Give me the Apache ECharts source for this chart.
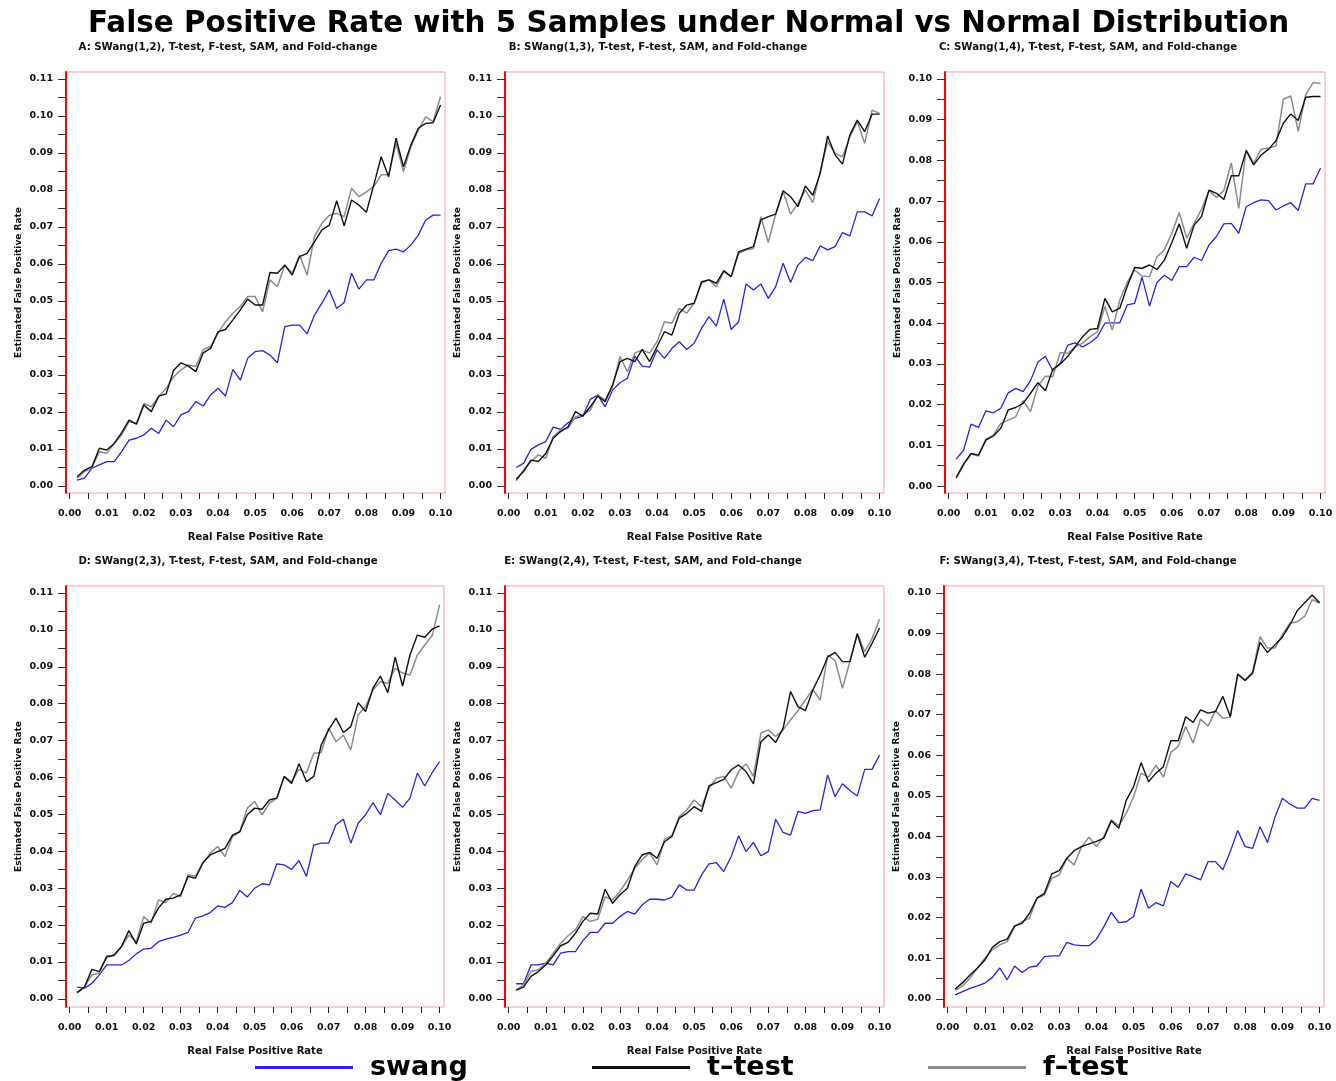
<!DOCTYPE html>
<html>
<head>
<meta charset="utf-8">
<script src="https://cdn.jsdelivr.net/npm/echarts@6/dist/echarts.min.js"></script>
<style>
html,body{margin:0;padding:0;background:#ffffff;}
#chart{width:1336px;height:1081px;}
</style>
</head>
<body>
<div id="chart"></div>
<script>
// ---------------- data ----------------
const xValues = [0.002,0.004,0.006,0.008,0.010,0.012,0.014,0.016,0.018,0.020,0.022,0.024,0.026,0.028,0.030,0.032,0.034,0.036,0.038,0.040,0.042,0.044,0.046,0.048,0.050,0.052,0.054,0.056,0.058,0.060,0.062,0.064,0.066,0.068,0.070,0.072,0.074,0.076,0.078,0.080,0.082,0.084,0.086,0.088,0.090,0.092,0.094,0.096,0.098,0.100];

const xTickLabels = [0.00,0.01,0.02,0.03,0.04,0.05,0.06,0.07,0.08,0.09,0.10];
const xTickMarks = [0.000,0.005,0.010,0.015,0.020,0.025,0.030,0.035,0.040,0.045,0.050,0.055,0.060,0.065,0.070,0.075,0.080,0.085,0.090,0.095,0.100];
const yTickLabels11 = [0.00,0.01,0.02,0.03,0.04,0.05,0.06,0.07,0.08,0.09,0.10,0.11];
const yTickMarks11 = [0.000,0.005,0.010,0.015,0.020,0.025,0.030,0.035,0.040,0.045,0.050,0.055,0.060,0.065,0.070,0.075,0.080,0.085,0.090,0.095,0.100,0.105,0.110];
const yTickLabels10 = [0.00,0.01,0.02,0.03,0.04,0.05,0.06,0.07,0.08,0.09,0.10];
const yTickMarks10 = [0.000,0.005,0.010,0.015,0.020,0.025,0.030,0.035,0.040,0.045,0.050,0.055,0.060,0.065,0.070,0.075,0.080,0.085,0.090,0.095,0.100];

const seriesNames = ['swang', 't\u2013test', 'f\u2013test'];

const panelTitles = [
  'A: SWang(1,2), T-test, F-test, SAM, and Fold-change',
  'B: SWang(1,3), T-test, F-test, SAM, and Fold-change',
  'C: SWang(1,4), T-test, F-test, SAM, and Fold-change',
  'D: SWang(2,3), T-test, F-test, SAM, and Fold-change',
  'E: SWang(2,4), T-test, F-test, SAM, and Fold-change',
  'F: SWang(3,4), T-test, F-test, SAM, and Fold-change'
];

// Panel A
const swangA = [0.0016,0.0021,0.0048,0.0057,0.0066,0.0066,0.0093,0.0124,0.0129,0.0138,0.0156,0.0142,0.0178,0.0160,0.0192,0.0201,0.0228,0.0216,0.0246,0.0264,0.0243,0.0315,0.0286,0.0345,0.0363,0.0366,0.0354,0.0333,0.0431,0.0435,0.0435,0.0411,0.0462,0.0494,0.0530,0.0480,0.0496,0.0575,0.0532,0.0557,0.0557,0.0602,0.0636,0.0640,0.0633,0.0651,0.0678,0.0719,0.0732,0.0732];
const ttestA = [0.0025,0.0043,0.0052,0.0102,0.0097,0.0115,0.0144,0.0178,0.0167,0.0219,0.0201,0.0243,0.0249,0.0312,0.0333,0.0324,0.0309,0.0360,0.0372,0.0417,0.0423,0.0449,0.0476,0.0505,0.0489,0.0489,0.0577,0.0575,0.0597,0.0570,0.0620,0.0629,0.0660,0.0692,0.0705,0.0771,0.0703,0.0773,0.0759,0.0740,0.0814,0.0890,0.0836,0.0940,0.0863,0.0922,0.0967,0.0980,0.0982,0.1030];
const ftestA = [0.0021,0.0039,0.0050,0.0093,0.0088,0.0115,0.0138,0.0174,0.0169,0.0223,0.0214,0.0241,0.0264,0.0295,0.0314,0.0327,0.0323,0.0369,0.0377,0.0413,0.0444,0.0467,0.0485,0.0512,0.0512,0.0471,0.0557,0.0539,0.0597,0.0575,0.0624,0.0570,0.0674,0.0710,0.0732,0.0737,0.0728,0.0805,0.0782,0.0795,0.0809,0.0841,0.0841,0.0926,0.0850,0.0917,0.0962,0.0998,0.0985,0.1052];

// Panel B
const swangB = [0.0050,0.0061,0.0099,0.0111,0.0120,0.0159,0.0153,0.0171,0.0183,0.0189,0.0234,0.0246,0.0214,0.0259,0.0279,0.0291,0.0351,0.0324,0.0321,0.0368,0.0345,0.0372,0.0390,0.0369,0.0386,0.0426,0.0458,0.0432,0.0505,0.0423,0.0444,0.0546,0.0530,0.0546,0.0507,0.0539,0.0602,0.0550,0.0597,0.0618,0.0609,0.0649,0.0638,0.0647,0.0685,0.0676,0.0741,0.0741,0.0730,0.0777];
const ttestB = [0.0018,0.0039,0.0070,0.0066,0.0088,0.0129,0.0147,0.0160,0.0201,0.0189,0.0214,0.0243,0.0228,0.0273,0.0336,0.0345,0.0336,0.0369,0.0336,0.0377,0.0417,0.0408,0.0467,0.0489,0.0494,0.0552,0.0557,0.0548,0.0582,0.0566,0.0633,0.0640,0.0647,0.0719,0.0728,0.0735,0.0798,0.0782,0.0755,0.0811,0.0786,0.0845,0.0946,0.0895,0.0870,0.0949,0.0989,0.0958,0.1005,0.1005];
const ftestB = [0.0014,0.0043,0.0066,0.0084,0.0075,0.0133,0.0151,0.0156,0.0187,0.0192,0.0205,0.0246,0.0232,0.0268,0.0350,0.0309,0.0359,0.0368,0.0359,0.0390,0.0444,0.0440,0.0480,0.0467,0.0494,0.0548,0.0557,0.0539,0.0579,0.0566,0.0629,0.0638,0.0642,0.0728,0.0658,0.0735,0.0795,0.0735,0.0764,0.0800,0.0766,0.0850,0.0931,0.0899,0.0890,0.0944,0.0985,0.0926,0.1016,0.1007];

// Panel C
const swangC = [0.0066,0.0088,0.0152,0.0144,0.0185,0.0180,0.0191,0.0229,0.0240,0.0232,0.0259,0.0305,0.0319,0.0283,0.0301,0.0346,0.0352,0.0342,0.0352,0.0367,0.0400,0.0401,0.0401,0.0445,0.0449,0.0513,0.0442,0.0500,0.0518,0.0505,0.0539,0.0539,0.0562,0.0554,0.0592,0.0613,0.0644,0.0645,0.0621,0.0686,0.0696,0.0703,0.0701,0.0678,0.0688,0.0696,0.0677,0.0742,0.0742,0.0781];
const ttestC = [0.0021,0.0054,0.0080,0.0076,0.0113,0.0123,0.0142,0.0187,0.0193,0.0203,0.0228,0.0254,0.0234,0.0287,0.0300,0.0318,0.0342,0.0367,0.0385,0.0387,0.0461,0.0428,0.0437,0.0490,0.0537,0.0535,0.0543,0.0532,0.0555,0.0598,0.0644,0.0584,0.0641,0.0662,0.0727,0.0719,0.0704,0.0762,0.0762,0.0824,0.0789,0.0813,0.0827,0.0848,0.0891,0.0914,0.0898,0.0955,0.0957,0.0957];
const ftestC = [0.0019,0.0052,0.0079,0.0074,0.0115,0.0125,0.0154,0.0162,0.0170,0.0210,0.0183,0.0246,0.0270,0.0269,0.0328,0.0326,0.0342,0.0351,0.0367,0.0379,0.0441,0.0383,0.0457,0.0500,0.0531,0.0516,0.0514,0.0563,0.0580,0.0621,0.0672,0.0609,0.0645,0.0680,0.0726,0.0709,0.0726,0.0794,0.0682,0.0826,0.0793,0.0827,0.0830,0.0835,0.0950,0.0958,0.0871,0.0961,0.0991,0.0989];

// Panel D
const swangD = [0.0032,0.0029,0.0042,0.0065,0.0092,0.0092,0.0092,0.0104,0.0122,0.0135,0.0137,0.0155,0.0162,0.0167,0.0173,0.0180,0.0219,0.0225,0.0234,0.0252,0.0248,0.0261,0.0294,0.0276,0.0300,0.0312,0.0309,0.0366,0.0363,0.0351,0.0375,0.0332,0.0417,0.0422,0.0422,0.0472,0.0487,0.0422,0.0476,0.0499,0.0532,0.0499,0.0557,0.0539,0.0519,0.0544,0.0612,0.0577,0.0613,0.0643];
const ttestD = [0.0017,0.0032,0.0080,0.0074,0.0113,0.0119,0.0142,0.0185,0.0149,0.0205,0.0210,0.0246,0.0270,0.0273,0.0282,0.0332,0.0327,0.0369,0.0390,0.0399,0.0408,0.0444,0.0453,0.0499,0.0517,0.0514,0.0539,0.0544,0.0603,0.0584,0.0637,0.0589,0.0603,0.0688,0.0729,0.0761,0.0722,0.0738,0.0803,0.0779,0.0842,0.0875,0.0830,0.0926,0.0848,0.0932,0.0986,0.0980,0.1002,0.1011];
const ftestD = [0.0017,0.0032,0.0065,0.0070,0.0117,0.0117,0.0142,0.0173,0.0155,0.0223,0.0205,0.0268,0.0261,0.0286,0.0277,0.0336,0.0333,0.0368,0.0395,0.0413,0.0386,0.0440,0.0453,0.0517,0.0535,0.0499,0.0530,0.0544,0.0603,0.0589,0.0622,0.0612,0.0666,0.0668,0.0734,0.0697,0.0715,0.0675,0.0770,0.0792,0.0837,0.0860,0.0855,0.0896,0.0883,0.0878,0.0932,0.0959,0.0984,0.1068];

// Panel E
const swangE = [0.0041,0.0041,0.0092,0.0092,0.0097,0.0092,0.0124,0.0128,0.0128,0.0158,0.0180,0.0180,0.0205,0.0205,0.0223,0.0237,0.0230,0.0255,0.0270,0.0270,0.0268,0.0276,0.0309,0.0295,0.0295,0.0336,0.0366,0.0369,0.0345,0.0386,0.0442,0.0399,0.0424,0.0388,0.0399,0.0487,0.0451,0.0444,0.0508,0.0503,0.0510,0.0512,0.0607,0.0548,0.0583,0.0565,0.0550,0.0622,0.0622,0.0661];
const ttestE = [0.0024,0.0032,0.0061,0.0074,0.0092,0.0117,0.0144,0.0153,0.0178,0.0210,0.0232,0.0230,0.0297,0.0259,0.0282,0.0300,0.0359,0.0390,0.0397,0.0381,0.0426,0.0440,0.0490,0.0503,0.0521,0.0508,0.0577,0.0586,0.0595,0.0621,0.0634,0.0616,0.0583,0.0697,0.0715,0.0695,0.0734,0.0833,0.0792,0.0781,0.0837,0.0878,0.0926,0.0939,0.0914,0.0914,0.0989,0.0926,0.0964,0.1005];
const ftestE = [0.0024,0.0038,0.0074,0.0079,0.0097,0.0124,0.0151,0.0171,0.0187,0.0223,0.0210,0.0216,0.0277,0.0268,0.0291,0.0322,0.0354,0.0378,0.0395,0.0363,0.0433,0.0442,0.0494,0.0512,0.0539,0.0521,0.0571,0.0598,0.0603,0.0571,0.0616,0.0637,0.0603,0.0720,0.0729,0.0711,0.0729,0.0756,0.0781,0.0810,0.0839,0.0810,0.0932,0.0917,0.0842,0.0914,0.0991,0.0941,0.0977,0.1029];

// Panel F
const swangF = [0.0010,0.0018,0.0026,0.0032,0.0039,0.0053,0.0076,0.0047,0.0081,0.0065,0.0078,0.0081,0.0104,0.0106,0.0106,0.0139,0.0133,0.0131,0.0131,0.0147,0.0178,0.0213,0.0188,0.0190,0.0203,0.0270,0.0223,0.0237,0.0229,0.0289,0.0275,0.0308,0.0301,0.0293,0.0338,0.0338,0.0318,0.0363,0.0415,0.0375,0.0371,0.0424,0.0385,0.0447,0.0494,0.0480,0.0470,0.0470,0.0494,0.0489];
const ttestF = [0.0024,0.0040,0.0059,0.0076,0.0096,0.0127,0.0141,0.0147,0.0180,0.0186,0.0211,0.0248,0.0260,0.0308,0.0316,0.0346,0.0365,0.0375,0.0382,0.0388,0.0396,0.0439,0.0420,0.0489,0.0523,0.0582,0.0535,0.0556,0.0572,0.0636,0.0636,0.0695,0.0681,0.0712,0.0704,0.0708,0.0745,0.0695,0.0800,0.0784,0.0802,0.0878,0.0853,0.0872,0.0891,0.0921,0.0956,0.0976,0.0995,0.0976];
const ftestF = [0.0021,0.0032,0.0051,0.0076,0.0100,0.0121,0.0133,0.0141,0.0178,0.0190,0.0199,0.0248,0.0256,0.0297,0.0305,0.0346,0.0330,0.0375,0.0398,0.0375,0.0400,0.0441,0.0426,0.0457,0.0498,0.0556,0.0546,0.0576,0.0546,0.0607,0.0622,0.0671,0.0630,0.0689,0.0672,0.0710,0.0691,0.0694,0.0798,0.0786,0.0806,0.0892,0.0864,0.0864,0.0897,0.0925,0.0929,0.0942,0.0983,0.0975];

// ---------------- layout / style ----------------
const FONT = 'DejaVu Sans';
const COLORS = { swang: '#2626d6', t: '#111111', f: '#8c8c8c' };

const panels = [
  { left: 66,  top: 72,  width: 379, height: 421, ymin: -0.0019, ymax: 0.1119, yLab: yTickLabels11, yTk: yTickMarks11, subX: 228,  subY: 47,  s: swangA, t: ttestA, f: ftestA },
  { left: 505, top: 72,  width: 379, height: 421, ymin: -0.0019, ymax: 0.1119, yLab: yTickLabels11, yTk: yTickMarks11, subX: 658,  subY: 47,  s: swangB, t: ttestB, f: ftestB },
  { left: 945, top: 72,  width: 380, height: 421, ymin: -0.0017, ymax: 0.1017, yLab: yTickLabels10, yTk: yTickMarks10, subX: 1088, subY: 47,  s: swangC, t: ttestC, f: ftestC },
  { left: 66,  top: 586, width: 378, height: 421, ymin: -0.0022, ymax: 0.1119, yLab: yTickLabels11, yTk: yTickMarks11, subX: 228,  subY: 561, s: swangD, t: ttestD, f: ftestD },
  { left: 505, top: 586, width: 379, height: 421, ymin: -0.0022, ymax: 0.1119, yLab: yTickLabels11, yTk: yTickMarks11, subX: 653,  subY: 561, s: swangE, t: ttestE, f: ftestE },
  { left: 944, top: 586, width: 380, height: 421, ymin: -0.0020, ymax: 0.1017, yLab: yTickLabels10, yTk: yTickMarks10, subX: 1088, subY: 561, s: swangF, t: ttestF, f: ftestF }
];

const fmt = v => Number(v).toFixed(2);
const zip = arr => xValues.map((x, i) => [x, arr[i]]);

const grids = [], xAxes = [], yAxes = [], series = [], graphics = [];
panels.forEach((p, i) => {
  grids.push({
    left: p.left, top: p.top, width: p.width, height: p.height,
    show: true, borderColor: '#f3a3a3', borderWidth: 1, backgroundColor: 'rgba(0,0,0,0)',
    containLabel: false, outerBoundsMode: 'none'
  });
  xAxes.push({
    gridIndex: i, type: 'value', min: -0.001, max: 0.1012,
    axisLine: { show: false, onZero: false },
    axisTick: { show: true, length: 6, customValues: xTickMarks, lineStyle: { color: '#222', width: 1 } },
    axisLabel: { customValues: xTickLabels, formatter: fmt, margin: 16, fontFamily: FONT, fontWeight: 'bold', fontSize: 9.5, color: '#111' },
    splitLine: { show: false },
    name: 'Real False Positive Rate', nameLocation: 'middle', nameGap: 39,
    nameTextStyle: { fontFamily: FONT, fontWeight: 'bold', fontSize: 10, color: '#111' }
  });
  yAxes.push({
    gridIndex: i, type: 'value', min: p.ymin, max: p.ymax,
    axisLine: { show: true, onZero: false, lineStyle: { color: '#ff0000', width: 2 } },
    axisTick: { show: true, length: 8, customValues: p.yTk, lineStyle: { color: '#333', width: 1 } },
    axisLabel: { customValues: p.yLab, formatter: fmt, margin: 13, fontFamily: FONT, fontWeight: 'bold', fontSize: 9.5, color: '#111' },
    splitLine: { show: false },
    name: 'Estimated False Positive Rate', nameLocation: 'middle', nameGap: 43,
    nameTextStyle: { fontFamily: FONT, fontWeight: 'bold', fontSize: 9, color: '#111' }
  });
  const common = { type: 'line', xAxisIndex: i, yAxisIndex: i, showSymbol: false, symbol: 'none', animation: false, silent: true };
  series.push(Object.assign({}, common, { name: seriesNames[0], data: zip(p.s), itemStyle: { color: COLORS.swang }, lineStyle: { color: COLORS.swang, width: 1.3 }, z: 2 }));
  series.push(Object.assign({}, common, { name: seriesNames[2], data: zip(p.f), itemStyle: { color: COLORS.f }, lineStyle: { color: COLORS.f, width: 1.5 }, z: 3 }));
  series.push(Object.assign({}, common, { name: seriesNames[1], data: zip(p.t), itemStyle: { color: COLORS.t }, lineStyle: { color: COLORS.t, width: 1.4 }, z: 4 }));
  graphics.push({
    type: 'text', x: p.subX, y: p.subY, silent: true,
    style: { text: panelTitles[i], fontFamily: FONT, fontWeight: 'bold', fontSize: 10.2, fill: '#111',
             align: 'center', verticalAlign: 'middle', textAlign: 'center', textVerticalAlign: 'middle' }
  });
});

const legendCommon = {
  icon: 'rect', itemWidth: 98, itemHeight: 3, padding: 0, top: 1054,
  textStyle: { fontFamily: FONT, fontWeight: 'bold', fontSize: 27, color: '#000', padding: [8, 0, 0, 12] }
};

const option = {
  backgroundColor: '#ffffff',
  animation: false,
  title: {
    text: 'False Positive Rate with 5 Samples under Normal vs Normal Distribution',
    left: 88, top: 10, padding: 0,
    textStyle: { fontFamily: FONT, fontWeight: 'bold', fontSize: 29.4, color: '#000' }
  },
  legend: [
    Object.assign({}, legendCommon, { left: 255, data: [seriesNames[0]] }),
    Object.assign({}, legendCommon, { left: 592, data: [seriesNames[1]] }),
    Object.assign({}, legendCommon, { left: 928, data: [seriesNames[2]] })
  ],
  grid: grids,
  xAxis: xAxes,
  yAxis: yAxes,
  series: series,
  graphic: graphics
};

const chart = echarts.init(document.getElementById('chart'), null, { renderer: 'canvas' });
chart.setOption(option);
</script>
</body>
</html>
